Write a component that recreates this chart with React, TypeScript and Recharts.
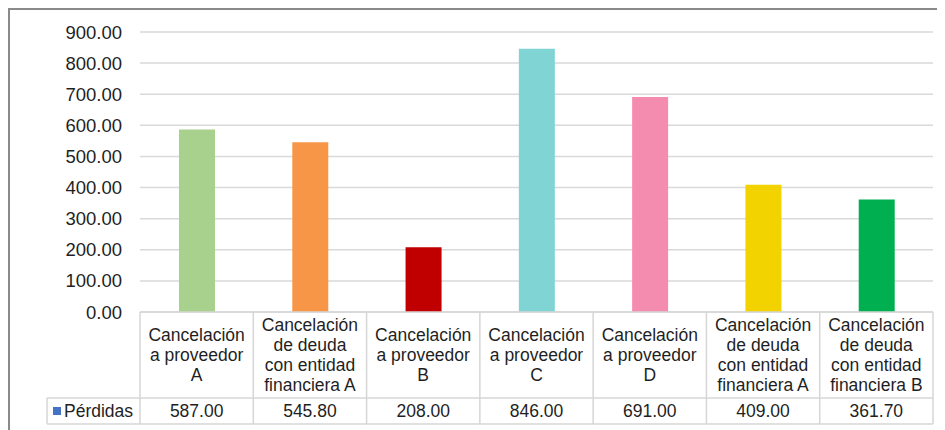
import { BarChart, Bar, XAxis, YAxis, CartesianGrid, Cell } from 'recharts';

// categories as they appear in the data table header (one entry per line)
const categoryLines: string[][] = [
  ['Cancelación', 'a proveedor', 'A'],
  ['Cancelación', 'de deuda', 'con entidad', 'financiera A'],
  ['Cancelación', 'a proveedor', 'B'],
  ['Cancelación', 'a proveedor', 'C'],
  ['Cancelación', 'a proveedor', 'D'],
  ['Cancelación', 'de deuda', 'con entidad', 'financiera A'],
  ['Cancelación', 'de deuda', 'con entidad', 'financiera B'],
];
const categories = categoryLines.map((l, i) => `${l.join(' ')} #${i}`);
const perdidas = [587.0, 545.8, 208.0, 846.0, 691.0, 409.0, 361.7];
const barColors = ['#a9d18e', '#f79646', '#c00000', '#81d4d4', '#f48cb0', '#f2d300', '#00b050'];
const yTicks = [0, 100, 200, 300, 400, 500, 600, 700, 800, 900];
const seriesName = 'Pérdidas';

const data = categories.map((c, i) => ({ name: c, value: perdidas[i] }));

const CHART_W = 935;
const CHART_H = 420;
const MARGIN = { top: 22, right: 12, left: 10, bottom: 6 };
const Y_AXIS_W = 120;
const PLOT_W = CHART_W - MARGIN.left - MARGIN.right - Y_AXIS_W;
const COL_W = PLOT_W / categories.length;
const HEADER_H = 86;
const ROW_H = 26;
const LEGEND_W = 93;
const LINE = '#d6d6d6';
const FONT = '"Liberation Sans", Arial, Helvetica, sans-serif';
const TEXT = '#1f1f1f';
const FS = 17.5;

const TableTick = (props: any) => {
  const { x, y, index } = props;
  const lines = categoryLines[index] || [];
  const left = x - COL_W / 2;
  const right = x + COL_W / 2;
  const midHeader = y + HEADER_H / 2;
  const lh = 20;
  const first = midHeader - ((lines.length - 1) * lh) / 2;
  return (
    <g>
      {/* header cell */}
      {index === 0 && <line x1={left} y1={y} x2={left} y2={y + HEADER_H + ROW_H} stroke={LINE} strokeWidth={1.5} />}
      <line x1={right} y1={y} x2={right} y2={y + HEADER_H + ROW_H} stroke={LINE} strokeWidth={1.5} />
      <line x1={left} y1={y + HEADER_H} x2={right} y2={y + HEADER_H} stroke={LINE} strokeWidth={1.5} />
      <line x1={left} y1={y + HEADER_H + ROW_H} x2={right} y2={y + HEADER_H + ROW_H} stroke={LINE} strokeWidth={1.5} />
      {lines.map((t, i) => (
        <text key={i} x={x} y={first + i * lh} textAnchor="middle" dominantBaseline="central" fontSize={FS} fontFamily={FONT} fill={TEXT}>
          {t}
        </text>
      ))}
      <text x={x} y={y + HEADER_H + ROW_H / 2} textAnchor="middle" dominantBaseline="central" fontSize={FS} fontFamily={FONT} fill={TEXT}>
        {perdidas[index].toFixed(2)}
      </text>
      {/* legend cell of the data table */}
      {index === 0 && (
        <g>
          <line x1={left - LEGEND_W} y1={y + HEADER_H} x2={left} y2={y + HEADER_H} stroke={LINE} strokeWidth={1.5} />
          <line x1={left - LEGEND_W} y1={y + HEADER_H + ROW_H} x2={left} y2={y + HEADER_H + ROW_H} stroke={LINE} strokeWidth={1.5} />
          <line x1={left - LEGEND_W} y1={y + HEADER_H} x2={left - LEGEND_W} y2={y + HEADER_H + ROW_H} stroke={LINE} strokeWidth={1.5} />
          <rect x={left - LEGEND_W + 6} y={y + HEADER_H + ROW_H / 2 - 4} width={8} height={8} fill="#4472c4" />
          <text x={left - LEGEND_W + 17} y={y + HEADER_H + ROW_H / 2} dominantBaseline="central" fontSize={FS} fontFamily={FONT} fill={TEXT}>
            {seriesName}
          </text>
        </g>
      )}
    </g>
  );
};

export default function App() {
  return (
    <div
      style={{
        width: CHART_W + 2,
        height: CHART_H + 2,
        borderTop: '2px solid #8a8a8a',
        borderLeft: '2px solid #8a8a8a',
        boxSizing: 'border-box',
        background: '#fff',
      }}
    >
      <BarChart width={CHART_W} height={CHART_H} data={data} margin={MARGIN}>
        <CartesianGrid vertical={false} stroke="#d9d9d9" strokeWidth={1.5} />
        <XAxis
          dataKey="name"
          interval={0}
          height={HEADER_H + ROW_H}
          tickSize={0}
          tickMargin={0}
          axisLine={{ stroke: LINE, strokeWidth: 1.5 }}
          tick={<TableTick />}
        />
        <YAxis
          width={Y_AXIS_W}
          domain={[0, 900]}
          ticks={yTicks}
          axisLine={false}
          tickLine={false}
          tickSize={0}
          tickMargin={18}
          tickFormatter={(v: number) => v.toFixed(2)}
          tick={{ fontSize: 18.5, fontFamily: FONT, fill: TEXT }}
        />
        <Bar dataKey="value" name={seriesName} barSize={36} isAnimationActive={false}>
          {data.map((_, i) => (
            <Cell key={i} fill={barColors[i]} />
          ))}
        </Bar>
      </BarChart>
    </div>
  );
}
